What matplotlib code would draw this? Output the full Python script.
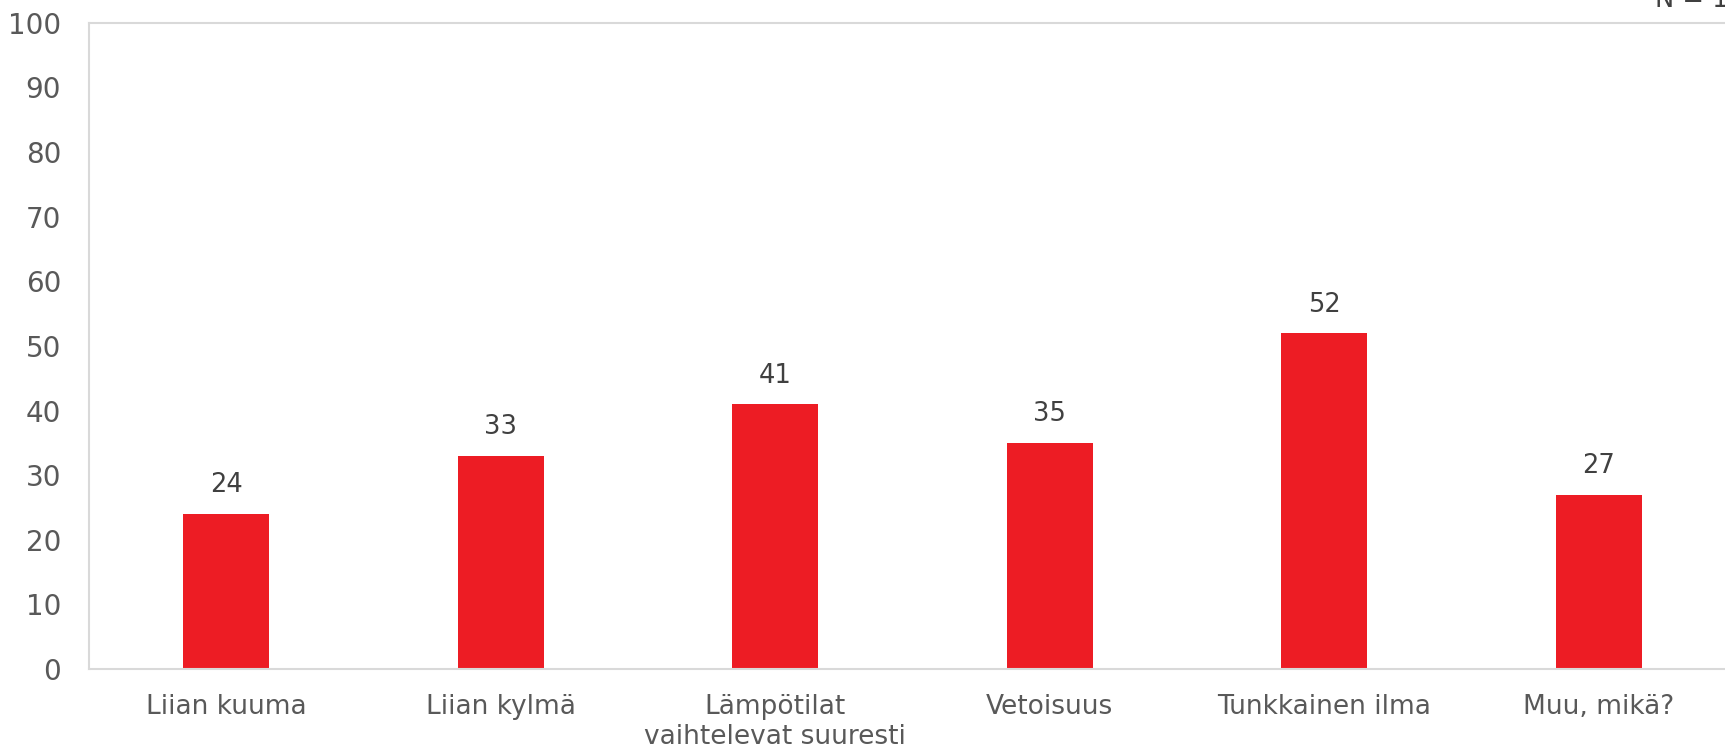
import numpy as np
import matplotlib
matplotlib.use('Agg')
import matplotlib.pyplot as plt

categories = ['Liian kuuma', 'Liian kylmä', 'Lämpötilat\nvaihtelevat suuresti',
              'Vetoisuus', 'Tunkkainen ilma', 'Muu, mikä?']
values = [24, 33, 41, 35, 52, 27]
n_text = 'N = 135'

plt.rcParams['font.family'] = ['DejaVu Sans']

fig = plt.figure(figsize=(17.25, 7.53), dpi=100)
ax = fig.add_axes([0.0516, 0.1116, 0.9548, 0.858])

x = np.arange(len(categories))
bars = ax.bar(x, values, width=0.313, color='#ED1C24', zorder=2)

for xi, v in zip(x, values):
    ax.text(xi, v + 2.4, str(v), ha='center', va='bottom', fontsize=18.5, color='#404040')

ax.set_xlim(-0.5, len(categories) - 0.5)
ax.set_ylim(0, 100)
ax.set_yticks(range(0, 101, 10))
ax.set_xticks(x)
ax.set_xticklabels(categories, fontsize=19, color='#595959', linespacing=1.2)
ax.tick_params(axis='y', labelsize=20, labelcolor='#595959', length=0, pad=20)
ax.tick_params(axis='x', length=0, pad=18)

for s in ax.spines.values():
    s.set_color('#D9D9D9')
    s.set_linewidth(1.5)

fig.text(1655 / 1725, 1 - 7 / 753, n_text, ha='left', va='baseline',
         fontsize=18.5, color='#404040')

fig.savefig('out.png', dpi=100)
